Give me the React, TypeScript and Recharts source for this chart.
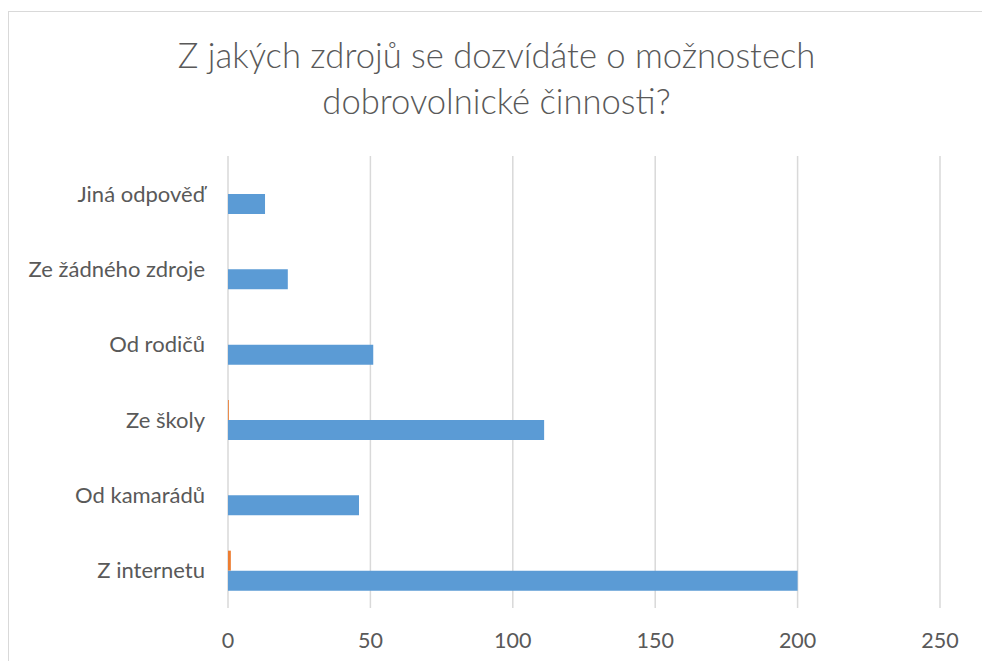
import React from "react";
import { BarChart, Bar, XAxis, YAxis, CartesianGrid } from "recharts";

const categories = ["Jiná odpověď", "Ze žádného zdroje", "Od rodičů", "Ze školy", "Od kamarádů", "Z internetu"];
const seriesBlue = [13, 21, 51, 111, 46, 200];
const seriesOrange = [0, 0, 0, 0.3, 0, 1];
const xTicks = [0, 50, 100, 150, 200, 250];
const titleLines = ["Z jakých zdrojů se dozvídáte o možnostech", "dobrovolnické činnosti?"];

const data = categories.map((c, i) => ({ name: c, blue: seriesBlue[i], orange: seriesOrange[i] }));

const FONT = "Lato, 'Open Sans', sans-serif";
const GREY = "#595959";

const XTick = (props: any) => (
  <text x={props.x} y={props.y + 40} textAnchor="middle" fill={GREY} fontSize={21.5} fontFamily={FONT}>
    {props.payload.value}
  </text>
);

const YTick = (props: any) => (
  <text x={props.x - 23} y={props.y + 8} textAnchor="end" fill={GREY} fontSize={22} fontFamily={FONT}>
    {props.payload.value}
  </text>
);

export default function App() {
  return (
    <div
      style={{
        position: "fixed",
        left: 8,
        top: 11,
        width: 974,
        height: 650,
        borderLeft: "1.5px solid #d9d9d9",
        borderTop: "1.5px solid #d9d9d9",
        background: "#fff",
      }}
    >
      <div
        style={{
          position: "absolute",
          left: 0,
          width: 975,
          top: 20,
          textAlign: "center",
          fontFamily: FONT,
          fontSize: 34.6,
          lineHeight: "46px",
          color: GREY,
          fontWeight: 300,
        }}
      >
        {titleLines.map((t) => (
          <div key={t}>{t}</div>
        ))}
      </div>
      <div style={{ position: "absolute", left: 0, top: 0 }}>
        <BarChart
          width={974}
          height={650}
          data={data}
          layout="vertical"
          margin={{ top: 144, right: 43, bottom: 0, left: 0 }}
          barSize={20}
          barGap={0}
        >
          <CartesianGrid horizontal={false} vertical={true} stroke="#d9d9d9" strokeWidth={1.5} />
          <XAxis
            type="number"
            domain={[0, 250]}
            ticks={xTicks}
            axisLine={false}
            tickLine={false}
            tickSize={0}
            tickMargin={0}
            height={54}
            tick={XTick}
            interval={0}
          />
          <YAxis
            type="category"
            dataKey="name"
            width={219}
            axisLine={false}
            tickLine={false}
            tickSize={0}
            tickMargin={0}
            tick={YTick}
            interval={0}
          />
          <Bar dataKey="orange" fill="#ed7d31" isAnimationActive={false} />
          <Bar dataKey="blue" fill="#5b9bd5" isAnimationActive={false} />
        </BarChart>
      </div>
    </div>
  );
}
